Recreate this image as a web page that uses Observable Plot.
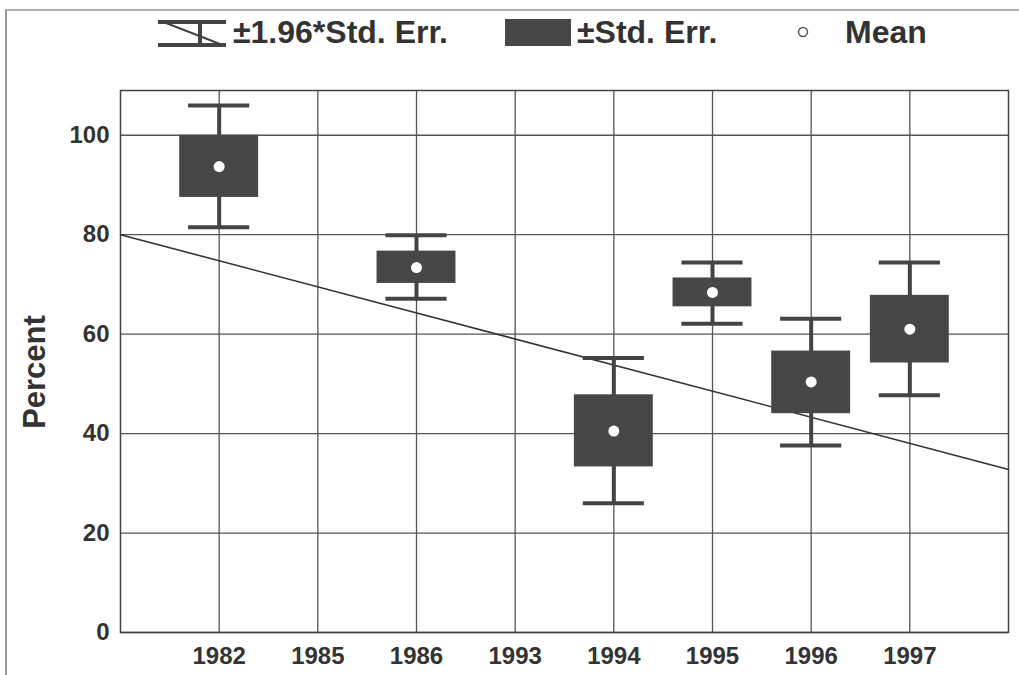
<!DOCTYPE html>
<html><head><meta charset="utf-8">
<script src="https://cdn.jsdelivr.net/npm/d3@7"></script>
<script src="https://cdn.jsdelivr.net/npm/@observablehq/plot@0.6"></script>
<style>
body{margin:0;background:#fff;}
#wrap{position:relative;width:1019px;height:675px;overflow:hidden;font-family:"Liberation Sans",Arial,sans-serif;color:#333;}
.frame{position:absolute;left:5px;top:9px;width:1020px;height:680px;border-left:2px solid #999;border-top:2px solid #b0b0b0;}
.leg{position:absolute;top:13px;font-size:32px;font-weight:bold;line-height:38px;white-space:nowrap;}
.leg svg{position:absolute;}
#ylab{position:absolute;left:35px;top:372px;transform:translate(-50%,-50%) rotate(-90deg);font-size:31px;font-weight:bold;white-space:nowrap;}
#chart{position:absolute;left:0;top:0;}
</style></head>
<body>
<div id="wrap">
  <div class="frame"></div>
  <div id="chart"></div>
  <div id="legend"></div>
  <div id="ylab"></div>
</div>
<script>
const years = ["1982","1985","1986","1993","1994","1995","1996","1997"];
const dataYears = ["1982","1986","1994","1995","1996","1997"];
const means  = [93.7, 73.4, 40.5, 68.4, 50.4, 61.0];
const seLow  = [87.5, 70.2, 33.3, 65.5, 44.0, 54.2];
const seHigh = [100.0, 76.7, 47.8, 71.3, 56.6, 67.8];
const ciLow  = [81.5, 67.1, 26.0, 62.1, 37.6, 47.7];
const ciHigh = [106.0, 79.9, 55.2, 74.4, 63.1, 74.4];
const trendStart = 80.0, trendEnd = 32.8;
const yTicks = [0, 20, 40, 60, 80, 100];
const legendLabels = ["\u00b11.96*Std. Err.", "\u00b1Std. Err.", "Mean"];
const yLabel = "Percent";

const ink = "#444";
const rows = dataYears.map((y, i) => ({
  pos: years.indexOf(y) + 1, mean: means[i], seLow: seLow[i], seHigh: seHigh[i],
  ciLow: ciLow[i], ciHigh: ciHigh[i]
}));
const xPos = years.map((y, i) => i + 1);
const trend = [{x: 0, y: trendStart}, {x: years.length + 1, y: trendEnd}];

const chart = Plot.plot({
  width: 1019, height: 675,
  marginLeft: 120, marginRight: 11, marginTop: 90, marginBottom: 43,
  style: {fontFamily: "'Liberation Sans', Arial, sans-serif", fontSize: "24px", fontWeight: "bold", color: "#333", background: "transparent"},
  x: {type: "linear", domain: [0, years.length + 1], axis: null},
  y: {domain: [0, 109], axis: null},
  marks: [
    Plot.ruleX(xPos, {stroke: "#555", strokeWidth: 1.3}),
    Plot.ruleY(yTicks, {stroke: "#555", strokeWidth: 1.3}),
    Plot.frame({stroke: "#444", strokeWidth: 1.5}),
    Plot.line(trend, {x: "x", y: "y", stroke: "#333", strokeWidth: 1.6}),
    Plot.ruleX(rows, {x: "pos", y1: "ciLow", y2: "ciHigh", stroke: ink, strokeWidth: 4}),
    Plot.ruleY(rows, {y: "ciLow", x1: d => d.pos - 0.31, x2: d => d.pos + 0.31, stroke: ink, strokeWidth: 4}),
    Plot.ruleY(rows, {y: "ciHigh", x1: d => d.pos - 0.31, x2: d => d.pos + 0.31, stroke: ink, strokeWidth: 4}),
    Plot.rect(rows, {x1: d => d.pos - 0.4, x2: d => d.pos + 0.4, y1: "seLow", y2: "seHigh", fill: "#474747"}),
    Plot.dot(rows, {x: "pos", y: "mean", r: 5.5, fill: "white", stroke: "none"}),
    Plot.axisX(xPos, {tickSize: 0, tickPadding: 14, tickFormat: i => years[i - 1], label: null, fill: "#333"}),
    Plot.axisY(yTicks, {tickSize: 0, tickPadding: 11, label: null, fill: "#333"})
  ]
});
document.getElementById("chart").appendChild(chart);
document.getElementById("ylab").textContent = yLabel;

const leg = document.getElementById("legend");
leg.innerHTML = `
<div class="leg" style="left:158px;width:320px;">
  <svg width="70" height="32" style="left:0;top:5px;">
    <line x1="0" y1="4" x2="68" y2="4" stroke="${ink}" stroke-width="4"/>
    <line x1="0" y1="27" x2="68" y2="27" stroke="${ink}" stroke-width="4"/>
    <line x1="42" y1="4" x2="42" y2="27" stroke="${ink}" stroke-width="4"/>
    <line x1="8" y1="5" x2="62" y2="26" stroke="${ink}" stroke-width="2"/>
  </svg>
  <span style="position:absolute;left:75px;top:0;">${legendLabels[0]}</span>
</div>
<div class="leg" style="left:505px;">
  <svg width="66" height="28" style="left:0;top:6px;"><rect x="0" y="0" width="66" height="27" fill="#474747"/></svg>
  <span style="position:absolute;left:72px;top:0;">${legendLabels[1]}</span>
</div>
<div class="leg" style="left:796px;">
  <svg width="16" height="16" style="left:0;top:12px;"><circle cx="7" cy="7" r="4.5" fill="white" stroke="#555" stroke-width="1.5"/></svg>
  <span style="position:absolute;left:49px;top:0;">${legendLabels[2]}</span>
</div>`;
</script>
</body></html>
